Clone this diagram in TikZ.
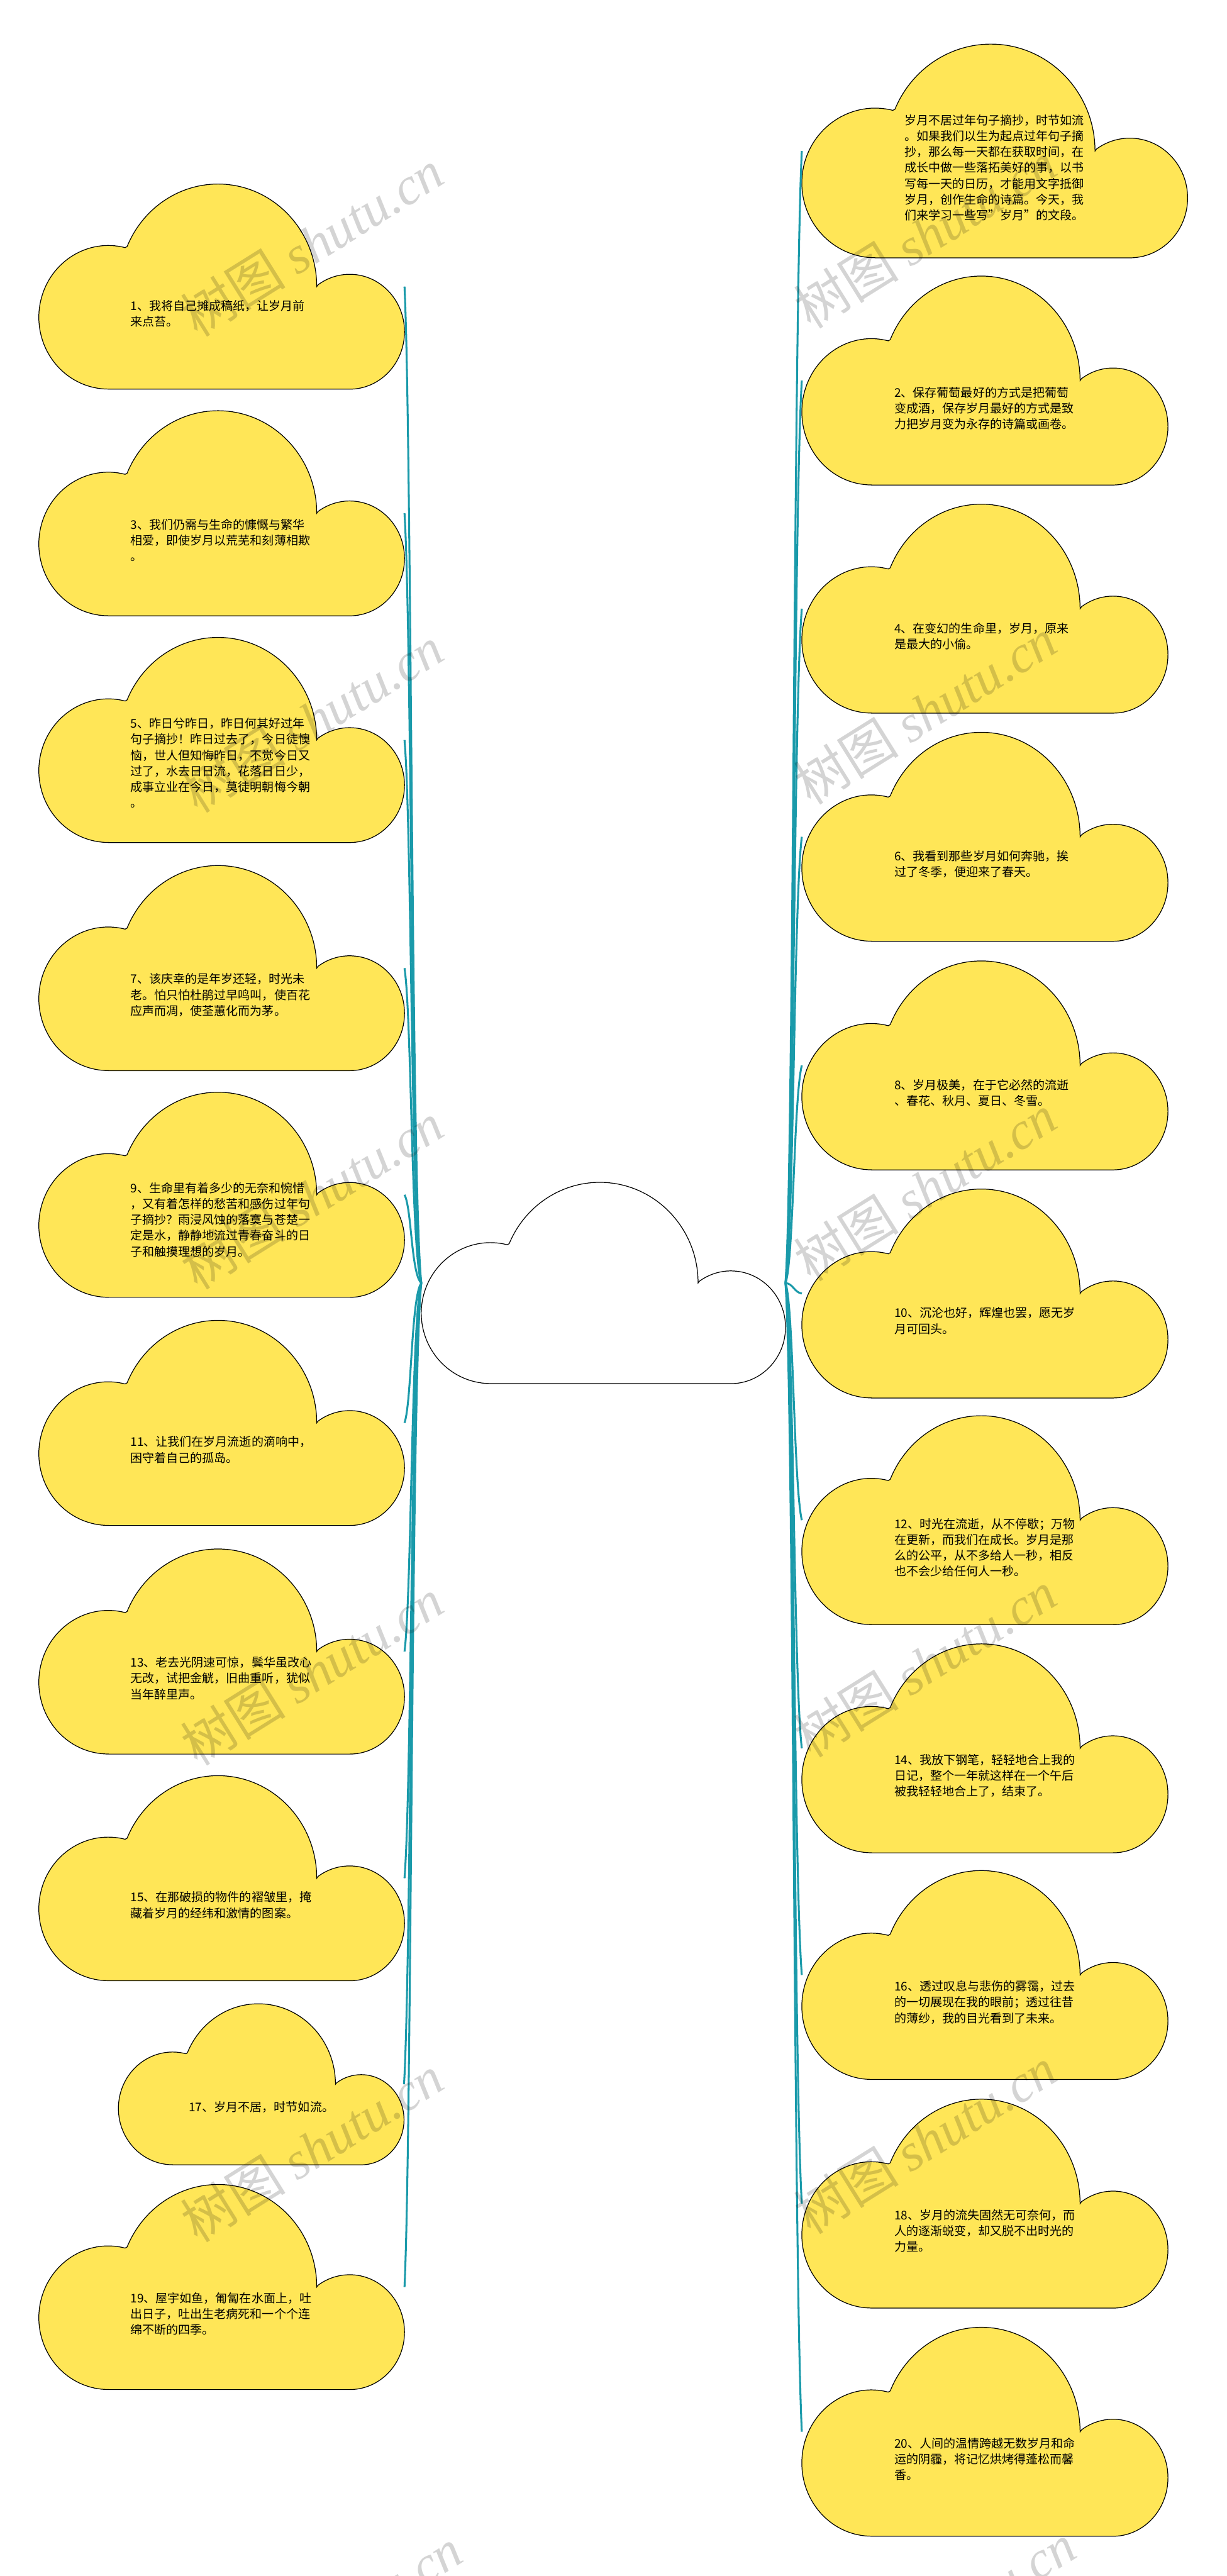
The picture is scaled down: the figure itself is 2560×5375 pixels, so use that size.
\documentclass[tikz,border=0pt]{standalone}
\usepackage{fontspec}
\setmainfont{Noto Sans CJK SC}
\newfontfamily\wmlatin{Liberation Serif}
\definecolor{cloudyellow}{HTML}{FFE657}
\definecolor{linkteal}{HTML}{1A9AAA}
\tikzset{
  cloudbox/.style={inner sep=0pt, outer sep=0pt, draw=none},
  yellowcloud/.style={draw=black, line width=1.6pt, fill=cloudyellow},
  whitecloud/.style={draw=black, line width=1.6pt, fill=white},
  txt/.style={anchor=west, align=left, inner sep=0pt, font=\fontsize{25}{33}\selectfont},
  link/.style={draw=linkteal, line width=4pt},
  wm/.style={rotate=32, text=black, opacity=0.17, inner sep=0pt, font=\fontsize{110}{110}\selectfont}
}
\newcommand\cloudshape[1]{%
  \path[#1] (0.19,0) -- (0.85,0)
    arc[start angle=-90, end angle=125, x radius=0.15, y radius=0.28]
    -- (0.76,0.5)
    arc[start angle=0, end angle=157, x radius=0.27, y radius=0.5]
    -- (0.236,0.69)
    arc[start angle=76, end angle=270, x radius=0.19, y radius=0.35]
    -- cycle;}
% name, left, top, width, height, style, text x, text y, text
\newcommand\mkcloud[9]{%
  \begin{scope}[shift={(#2,#3+#5)}, x=#4pt, y=#5pt]
    \cloudshape{#6}
  \end{scope}
  \node[cloudbox, minimum width=#4pt, minimum height=#5pt, anchor=north west] (#1) at (#2,#3) {};
  \node[txt] (#1t) at (#7,#8) {#9};}
\newcommand\leftlink[2]{%
  \draw[link] (root.west) .. controls +(-21,{-0.1*(2677-#2)}) and +(15,{0.15*(2677-#2)}) .. (#1.east);}
\newcommand\rightlink[2]{%
  \draw[link] (root.east) .. controls +(17,{-0.1*(2677-#2)}) and +(-17,{0.15*(2677-#2)}) .. (#1.west);}
\newcommand\wmark[3]{\node[wm] (#1) at (#2,#3) {树图 {\wmlatin\itshape shutu.cn}};}
\begin{document}
\begin{tikzpicture}[x=1pt, y=-1pt]
\useasboundingbox (0,0) rectangle (2560,5375);
\fill[white] (0,0) rectangle (2560,5375);

% root
\begin{scope}[shift={(879,2887)}, x=760pt, y=420pt]
  \cloudshape{whitecloud}
\end{scope}
\node[cloudbox, minimum width=760pt, minimum height=420pt, anchor=north west] (root) at (879,2467) {};

% left column
\mkcloud{c1}{81}{384}{763}{428}{yellowcloud}{272}{654}{1、我将自己摊成稿纸，让岁月前\\来点苔。}
\mkcloud{c3}{81}{857}{763}{428}{yellowcloud}{272}{1127}{3、我们仍需与生命的慷慨与繁华\\相爱，即使岁月以荒芜和刻薄相欺\\。}
\mkcloud{c5}{81}{1330}{763}{428}{yellowcloud}{272}{1592}{5、昨日兮昨日，昨日何其好过年\\句子摘抄！昨日过去了，今日徒懊\\恼，世人但知悔昨日，不觉今日又\\过了，水去日日流，花落日日少，\\成事立业在今日，莫徒明朝悔今朝\\。}
\mkcloud{c7}{81}{1806}{763}{428}{yellowcloud}{272}{2076}{7、该庆幸的是年岁还轻，时光未\\老。怕只怕杜鹃过早鸣叫，使百花\\应声而凋，使荃蕙化而为茅。}
\mkcloud{c9}{81}{2279}{763}{428}{yellowcloud}{272}{2545}{9、生命里有着多少的无奈和惋惜\\，又有着怎样的愁苦和感伤过年句\\子摘抄？雨浸风蚀的落寞与苍楚一\\定是水，静静地流过青春奋斗的日\\子和触摸理想的岁月。}
\mkcloud{c11}{81}{2755}{763}{428}{yellowcloud}{272}{3025}{11、让我们在岁月流逝的滴响中，\\困守着自己的孤岛。}
\mkcloud{c13}{81}{3232}{763}{428}{yellowcloud}{272}{3502}{13、老去光阴速可惊，鬓华虽改心\\无改，试把金觥，旧曲重听，犹似\\当年醉里声。}
\mkcloud{c15}{81}{3705}{763}{428}{yellowcloud}{272}{3975}{15、在那破损的物件的褶皱里，掩\\藏着岁月的经纬和激情的图案。}
\mkcloud{c17}{247}{4181}{596}{336}{yellowcloud}{394}{4397}{17、岁月不居，时节如流。}
\mkcloud{c19}{81}{4558}{763}{428}{yellowcloud}{272}{4828}{19、屋宇如鱼，匍匐在水面上，吐\\出日子，吐出生老病死和一个个连\\绵不断的四季。}

% right column
\mkcloud{c0}{1673}{92}{805}{446}{yellowcloud}{1887}{350}{岁月不居过年句子摘抄，时节如流\\。如果我们以生为起点过年句子摘\\抄，那么每一天都在获取时间，在\\成长中做一些落拓美好的事，以书\\写每一天的日历，才能用文字抵御\\岁月，创作生命的诗篇。今天，我\\们来学习一些写\symbol{34}岁月\symbol{34}的文段。}
\mkcloud{c2}{1673}{576}{764}{436}{yellowcloud}{1866}{852}{2、保存葡萄最好的方式是把葡萄\\变成酒，保存岁月最好的方式是致\\力把岁月变为永存的诗篇或画卷。}
\mkcloud{c4}{1673}{1052}{764}{436}{yellowcloud}{1866}{1327}{4、在变幻的生命里，岁月，原来\\是最大的小偷。}
\mkcloud{c6}{1673}{1528}{764}{436}{yellowcloud}{1866}{1803}{6、我看到那些岁月如何奔驰，挨\\过了冬季，便迎来了春天。}
\mkcloud{c8}{1673}{2005}{764}{436}{yellowcloud}{1866}{2280}{8、岁月极美，在于它必然的流逝\\、春花、秋月、夏日、冬雪。}
\mkcloud{c10}{1673}{2481}{764}{436}{yellowcloud}{1866}{2756}{10、沉沦也好，辉煌也罢，愿无岁\\月可回头。}
\mkcloud{c12}{1673}{2954}{764}{436}{yellowcloud}{1866}{3229}{12、时光在流逝，从不停歇；万物\\在更新，而我们在成长。岁月是那\\么的公平，从不多给人一秒，相反\\也不会少给任何人一秒。}
\mkcloud{c14}{1673}{3430}{764}{436}{yellowcloud}{1866}{3705}{14、我放下钢笔，轻轻地合上我的\\日记，整个一年就这样在一个午后\\被我轻轻地合上了，结束了。}
\mkcloud{c16}{1673}{3903}{764}{436}{yellowcloud}{1866}{4178}{16、透过叹息与悲伤的雾霭，过去\\的一切展现在我的眼前；透过往昔\\的薄纱，我的目光看到了未来。}
\mkcloud{c18}{1673}{4380}{764}{436}{yellowcloud}{1866}{4655}{18、岁月的流失固然无可奈何，而\\人的逐渐蜕变，却又脱不出时光的\\力量。}
\mkcloud{c20}{1673}{4856}{764}{436}{yellowcloud}{1866}{5131}{20、人间的温情跨越无数岁月和命\\运的阴霾，将记忆烘烤得蓬松而馨\\香。}

% connectors
\leftlink{c1}{598}
\leftlink{c3}{1071}
\leftlink{c5}{1544}
\leftlink{c7}{2020}
\leftlink{c9}{2493}
\leftlink{c11}{2969}
\leftlink{c13}{3446}
\leftlink{c15}{3919}
\leftlink{c17}{4349}
\leftlink{c19}{4772}
\rightlink{c0}{315}
\rightlink{c2}{794}
\rightlink{c4}{1270}
\rightlink{c6}{1746}
\rightlink{c8}{2223}
\rightlink{c10}{2699}
\rightlink{c12}{3172}
\rightlink{c14}{3648}
\rightlink{c16}{4121}
\rightlink{c18}{4598}
\rightlink{c20}{5074}

% watermarks
\wmark{w1}{651}{507}
\wmark{w2}{1930}{490}
\wmark{w3}{651}{1501}
\wmark{w4}{1930}{1484}
\wmark{w5}{651}{2495}
\wmark{w6}{1930}{2478}
\wmark{w7}{651}{3489}
\wmark{w8}{1930}{3472}
\wmark{w9}{651}{4483}
\wmark{w10}{1930}{4466}
\wmark{w11}{690}{5470}
\wmark{w12}{1970}{5460}
\end{tikzpicture}
\end{document}
